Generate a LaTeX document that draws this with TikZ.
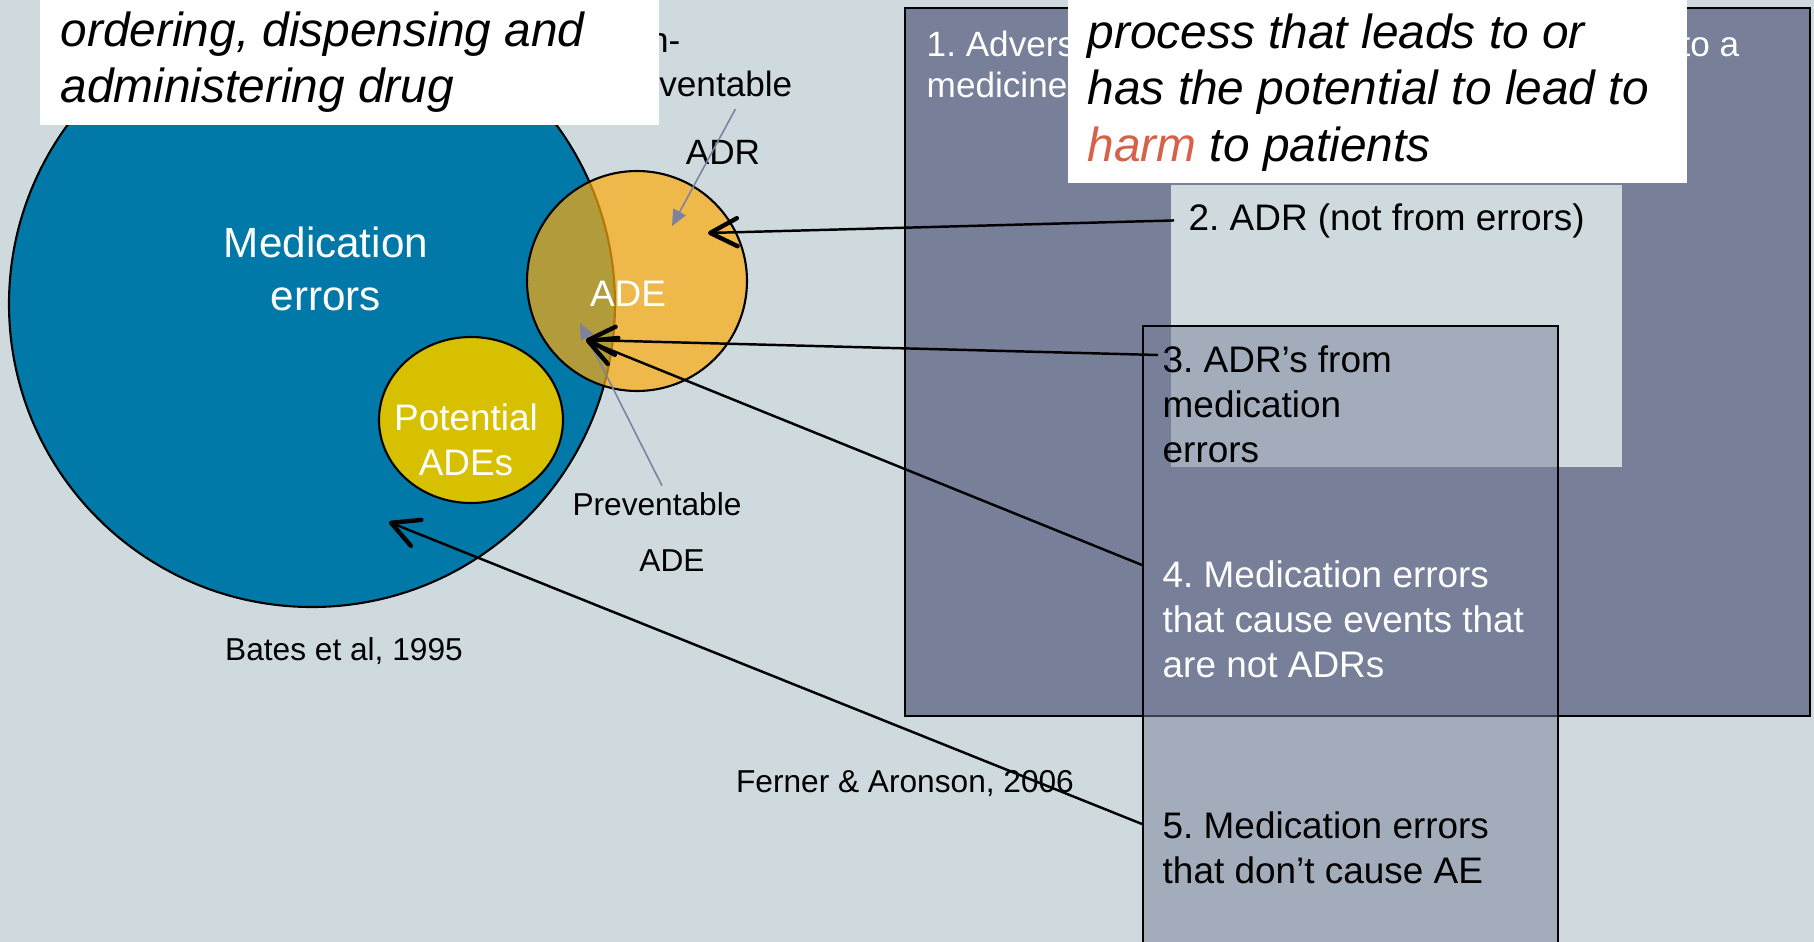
\documentclass[tikz,border=0pt]{standalone}
\usepackage{fontspec}
\setmainfont{Liberation Sans}
\usepackage{tikz}
\usetikzlibrary{arrows.meta,calc}
\frenchspacing

\definecolor{slidebg}{RGB}{207,218,223}
\definecolor{panel}{RGB}{119,127,153}
\definecolor{errblue}{RGB}{0,120,168}
\definecolor{adeorange}{RGB}{254,170,12}
\definecolor{potyellow}{RGB}{214,192,0}
\definecolor{harmred}{RGB}{214,98,74}
\definecolor{ptrgrey}{RGB}{125,130,160}

\newcommand{\venntext}{\fontsize{12}{15}\selectfont}
\newcommand{\boxtext}{\fontsize{10.5}{12.8}\selectfont}
\newcommand{\aetext}{\fontsize{10}{11.7}\selectfont}
\newcommand{\reftext}{\fontsize{9}{12}\selectfont}
\newcommand{\adrtext}{\fontsize{10}{12}\selectfont}
\newcommand{\calltext}{\fontsize{13.6}{16.1}\selectfont\itshape}

\begin{document}
\begin{tikzpicture}[x=0.01cm,y=-0.01cm,
    wtxt/.style={text=white,inner sep=0},
    btxt/.style={text=black,inner sep=0},
    link/.style={line width=0.7pt,-{Straight Barb[length=2.7mm,width=2.8mm,line width=1.25pt,round]}},
    ptr/.style={color=ptrgrey,line width=0.45pt,-{Triangle[length=1.6mm,width=1.4mm]}}]
    \useasboundingbox (0,0) rectangle (1814,942);
    \clip (0,0) rectangle (1814,942);
    \fill[slidebg] (0,0) rectangle (1814,942);

    \filldraw[fill=errblue,semithick] (312,304) circle [radius=303];
    \filldraw[fill=potyellow,semithick] (471,420) ellipse [x radius=92,y radius=83];
    \filldraw[fill=adeorange,fill opacity=0.7,semithick] (637,281) circle [radius=110];

    \node (mederr) at (326,269) [wtxt,font=\venntext,align=center] {Medication\\errors};
    \node (ade) at (628,294) [wtxt,font=\boxtext] {ADE};
    \node (potade) at (466,440) [wtxt,font=\boxtext,align=center] {Potential\\ADEs};

    \node (nonprev1) at (681,52) [btxt,font=\adrtext,anchor=base east] {Non-};
    \node (nonprev2) at (793,96) [btxt,font=\adrtext,anchor=base east] {preventable};
    \node (nonprev3) at (723,152) [btxt,font=\adrtext] {ADR};
    \node (prev1) at (657,504) [btxt,font=\reftext] {Preventable};
    \node (prev2) at (672,561) [btxt,font=\reftext] {ADE};
    \node (bates) at (344,651) [btxt,font=\reftext] {Bates et al, 1995};
    \node (ferner) at (905,783) [btxt,font=\reftext] {Ferner \& Aronson, 2006};

    \draw[fill=panel,semithick] (905,8) rectangle (1810,716);
    \node (ae1) at (926,30) [wtxt,font=\aetext,anchor=north west,align=left] {1. Adverse\\medicine};
    \node (ae1b) at (1740,56) [wtxt,font=\aetext,anchor=base east] {to a};

    \fill[slidebg] (1171,185) rectangle (1622,467);
    \node (adr2) at (1188,230) [btxt,font=\boxtext,anchor=base west] {2. ADR (not from errors)};

    \node (panelB) at (1142,325) [anchor=north west,draw,semithick,fill=panel,fill opacity=0.5,
        minimum width=4.15cm,minimum height=6.17cm,inner sep=0] {};
    \node (adr3) at (1162,345) [btxt,font=\boxtext,anchor=north west,align=left] {3. ADR’s from\\medication\\errors};
    \node (me4) at (1162,560) [wtxt,font=\boxtext,anchor=north west,align=left] {4. Medication errors\\that cause events that\\are not ADRs};
    \node (me5) at (1162,811) [btxt,font=\boxtext,anchor=north west,align=left] {5. Medication errors\\that don’t cause AE};

    \fill[white] (40,-5) rectangle (659,125);
    \node (scope) at (60,11) [btxt,font=\calltext,anchor=north west,align=left] {ordering, dispensing and\\administering drug};
    \fill[white] (1068,-5) rectangle (1687,183);
    \node (harmdef) at (1087,13) [btxt,font=\calltext,anchor=north west,align=left] {process that leads to or\\has the potential to lead to\\{\color{harmred}harm} to patients};

    \coordinate (adrtip) at (708,233);
    \coordinate (adetip) at (586,340);
    \coordinate (errtip) at (389,522);
    \coordinate (nptip) at (672,226);
    \coordinate (ptip) at (580,323);

    \draw[ptr] ([xshift=3.5mm,yshift=-0.5mm]nonprev2.south) -- (nptip);
    \draw[ptr] ([xshift=0.5mm,yshift=0.6mm]prev1.north) -- (ptip);

    \draw[link] ($(adr2.west)+(-14,0)$) -- (adrtip);
    \draw[link] ($(adr3.north west)+(-4,10)$) -- (adetip);
    \draw[link] ($(panelB.west |- me4.north)+(0,5)$) -- (adetip);
    \draw[link] ($(panelB.west |- me5.north)+(0,13)$) -- (errtip);
\end{tikzpicture}
\end{document}
